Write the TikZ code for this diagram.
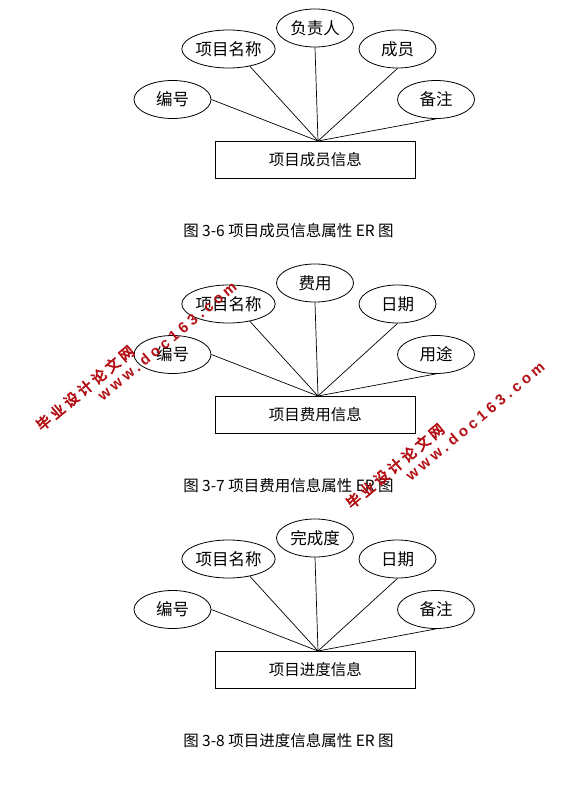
\documentclass[tikz,border=0pt]{standalone}
\usepackage{fontspec}
\setmainfont{Noto Sans CJK SC}
\newfontfamily\wmcjk[FakeBold=4,LetterSpace=24]{Noto Sans CJK SC}
\newfontfamily\wmlat[LetterSpace=26]{Liberation Sans}
\usetikzlibrary{shapes.geometric}
\definecolor{wmred}{RGB}{180,15,20}
\begin{document}
\begin{tikzpicture}[x=1bp,y=-1bp,
  attr/.style={ellipse,draw,line width=0.8bp,minimum width=77bp,minimum height=38bp,inner sep=0pt,font=\fontsize{16.5bp}{17bp}\selectfont},
  ent/.style={rectangle,draw,line width=0.9bp,minimum width=199.5bp,minimum height=37bp,inner sep=0pt,font=\fontsize{15.5bp}{16bp}\selectfont},
  link/.style={line width=0.7bp},
  captxt/.style={inner sep=0pt,font=\fontsize{15.5bp}{16bp}\selectfont},
  wm/.style={text=wmred,rotate=40,inner sep=0pt}]
\useasboundingbox[fill=white] (0,0) rectangle (582,798);

% ---------- diagram 1 ----------
\node[attr] (a1) at (172.5,99.5) {编号};
\node[attr] (a2) at (228.5,49) {项目名称};
\node[attr] (a3) at (315,28) {负责人};
\node[attr] (a4) at (397.5,49) {成员};
\node[attr] (a5) at (436,99.5) {备注};
\node[ent] (ae) at (315.25,159.5) {项目成员信息};
\coordinate (ap) at (318,141);
\draw[link] (a1.east) -- (ap);
\draw[link] (a2.-39) -- (ap);
\draw[link] (a3.south) -- (ap);
\draw[link] (a4.south) -- (ap);
\draw[link] (a5.south) -- (ap);
\node[captxt] (acap) at (288.5,231) {图 3-6 项目成员信息属性 ER 图};

% ---------- diagram 2 ----------
\begin{scope}[shift={(0,255)}]
\node[attr] (b1) at (172.5,99.5) {编号};
\node[attr] (b2) at (228.5,49) {项目名称};
\node[attr] (b3) at (315,28) {费用};
\node[attr] (b4) at (397.5,49) {日期};
\node[attr] (b5) at (436,99.5) {用途};
\node[ent] (be) at (315.25,159.5) {项目费用信息};
\coordinate (bp) at (318,141);
\draw[link] (b1.east) -- (bp);
\draw[link] (b2.-39) -- (bp);
\draw[link] (b3.south) -- (bp);
\draw[link] (b4.south) -- (bp);
\draw[link] (b5.south) -- (bp);
\node[captxt] (bcap) at (288.5,231) {图 3-7 项目费用信息属性 ER 图};
\end{scope}

% ---------- diagram 3 ----------
\begin{scope}[shift={(0,510)}]
\node[attr] (c1) at (172.5,99.5) {编号};
\node[attr] (c2) at (228.5,49) {项目名称};
\node[attr] (c3) at (315,28) {完成度};
\node[attr] (c4) at (397.5,49) {日期};
\node[attr] (c5) at (436,99.5) {备注};
\node[ent] (ce) at (315.25,159.5) {项目进度信息};
\coordinate (cp) at (318,141);
\draw[link] (c1.east) -- (cp);
\draw[link] (c2.-39) -- (cp);
\draw[link] (c3.south) -- (cp);
\draw[link] (c4.south) -- (cp);
\draw[link] (c5.south) -- (cp);
\node[captxt] (ccap) at (288.5,231) {图 3-8 项目进度信息属性 ER 图};
\end{scope}

% ---------- watermarks ----------
\node[wm,font=\wmcjk\fontsize{14.5bp}{15bp}\selectfont] (w1a) at (85,388) {毕业设计论文网};
\node[wm,font=\wmlat\bfseries\fontsize{15bp}{16bp}\selectfont] (w1b) at (167,341) {www.doc163.com};
\node[wm,font=\wmcjk\fontsize{14.5bp}{15bp}\selectfont] (w2a) at (395,466) {毕业设计论文网};
\node[wm,font=\wmlat\bfseries\fontsize{15bp}{16bp}\selectfont] (w2b) at (475,421) {www.doc163.com};
\end{tikzpicture}
\end{document}
